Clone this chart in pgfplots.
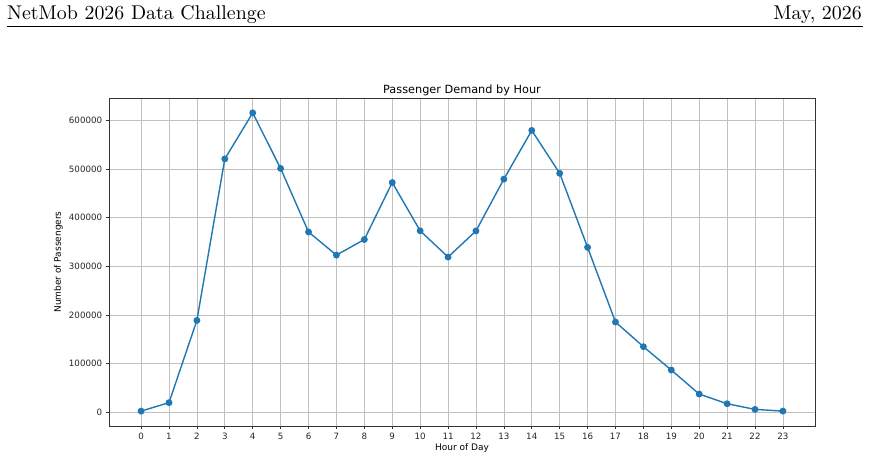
\documentclass[border=0pt]{standalone}
\usepackage{fontspec}
\usepackage{pgfplots}
\pgfplotsset{compat=1.18}
\newfontfamily\dejavu{DejaVu Sans}
\newfontfamily\lmten{lmroman10-regular}[Extension=.otf]
\definecolor{mplblue}{RGB}{31,119,180}
\definecolor{mplgrid}{RGB}{192,192,192}

\begin{document}
\begin{tikzpicture}[x=1pt,y=1pt]
\useasboundingbox (0,0) rectangle (870,460);

% page header
\node[anchor=base west, inner sep=0pt, font=\lmten\fontsize{19.9}{24}\selectfont] at (7,440.7) {NetMob 2026 Data Challenge};
\node[anchor=base east, inner sep=0pt, font=\lmten\fontsize{19.9}{24}\selectfont] at (862,440.7) {May, 2026};
\draw[line width=0.8pt] (7,433.3) -- (863,433.3);

\begin{axis}[
    at={(109pt,34pt)}, anchor=south west,
    scale only axis,
    width=706pt, height=328pt,
    xmin=-1.15, xmax=24.15,
    ymin=-27900, ymax=645600,
    xtick={0,1,...,23},
    ytick={0,100000,200000,300000,400000,500000,600000},
    scaled y ticks=false,
    /pgf/number format/.cd, fixed, 1000 sep={}, assume math mode=true,
    /pgfplots/.cd,
    tick align=outside,
    major tick length=3.3pt,
    tick pos=left,
    tick style={black!80, line width=0.7pt},
    axis line style={black!80, line width=0.7pt},
    grid=major,
    major grid style={mplgrid, line width=0.7pt},
    ticklabel style={font=\dejavu\fontsize{8.7}{10}\selectfont, text=black!85},
    title={Passenger Demand by Hour},
    every axis title shift=0pt,
    title style={font=\dejavu\fontsize{11.3}{13}\selectfont, at={(axis description cs:0.5,1.0143)}, anchor=base, inner sep=0pt},
    xlabel={Hour of Day},
    xlabel style={font=\dejavu\fontsize{9}{11}\selectfont, at={(axis description cs:0.5,-0.0762)}, anchor=base, inner sep=0pt},
    ylabel={Number of Passengers},
    ylabel style={font=\dejavu\fontsize{9}{11}\selectfont, at={(axis description cs:-0.068,0.5)}, anchor=base, inner sep=0pt},
]
\addplot[mplblue, line width=1.4pt, mark=*, mark size=2.7pt, mark options={solid, fill=mplblue, draw=mplblue}]
coordinates {
    (0,2700)
    (1,20000)
    (2,189000)
    (3,520500)
    (4,615000)
    (5,501000)
    (6,370500)
    (7,323000)
    (8,355000)
    (9,472000)
    (10,373000)
    (11,319000)
    (12,372600)
    (13,479000)
    (14,579000)
    (15,491000)
    (16,339000)
    (17,185600)
    (18,135000)
    (19,87000)
    (20,37700)
    (21,17800)
    (22,6200)
    (23,2700)
};
\end{axis}
\end{tikzpicture}
\end{document}
